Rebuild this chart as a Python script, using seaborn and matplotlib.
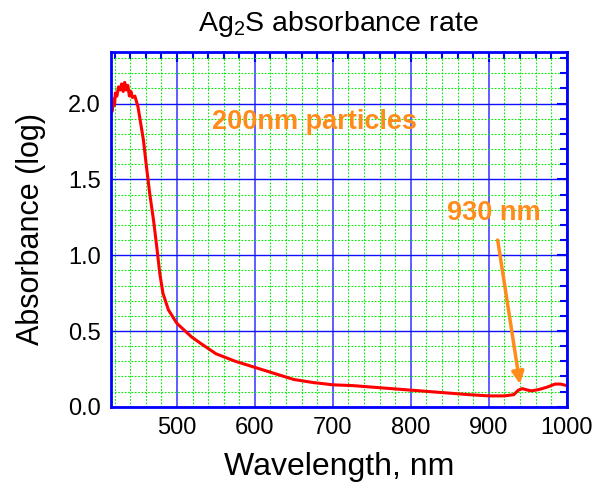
import matplotlib
matplotlib.use('Agg')
import matplotlib.pyplot as plt
import seaborn as sns
import pandas as pd
from matplotlib.ticker import MultipleLocator, FormatStrFormatter

# 吸收光谱数据
wavelength = [417, 419, 420, 421, 423, 425, 427, 429, 431, 433, 435, 437, 439, 441, 443,
              446, 450, 457, 461, 465, 470, 474, 478, 482, 489, 500, 519, 530,
              550, 575, 600, 625, 650, 675, 700, 725, 750, 775, 800, 825, 850, 875,
              900, 920, 932, 938, 943, 950, 955, 965, 975, 985, 992, 1000]
absorbance = [1.95, 2.03, 1.99, 2.07, 2.05, 2.11, 2.09, 2.13, 2.08, 2.14, 2.09, 2.12, 2.05, 2.08, 2.04,
              2.05, 1.98, 1.76, 1.58, 1.41, 1.23, 1.06, 0.88, 0.75, 0.64, 0.55, 0.46, 0.42,
              0.35, 0.30, 0.26, 0.22, 0.18, 0.16, 0.145, 0.14, 0.13, 0.12, 0.11, 0.10, 0.09, 0.08,
              0.072, 0.072, 0.08, 0.11, 0.12, 0.11, 0.105, 0.115, 0.13, 0.15, 0.15, 0.14]

df = pd.DataFrame({'wavelength': wavelength, 'absorbance': absorbance})

sns.set_style('white')
plt.rcParams['font.family'] = ['Liberation Sans', 'DejaVu Sans']
plt.rcParams['text.color'] = 'black'
plt.rcParams['axes.labelcolor'] = 'black'
plt.rcParams['mathtext.fontset'] = 'custom'
plt.rcParams['mathtext.rm'] = 'Liberation Sans'
plt.rcParams['mathtext.default'] = 'rm'

fig = plt.figure(figsize=(5.95, 4.82), dpi=100)
ax = fig.add_axes([0.186, 0.156, 0.7665, 0.736])

# 网格
ax.xaxis.set_major_locator(MultipleLocator(100))
ax.xaxis.set_minor_locator(MultipleLocator(20))
ax.yaxis.set_major_locator(MultipleLocator(0.5))
ax.yaxis.set_minor_locator(MultipleLocator(0.1))
ax.grid(which='minor', color='#00ee00', linestyle=(0, (1.5, 1.5)), linewidth=0.8)
ax.grid(which='major', axis='y', color='#1010ff', linestyle='-', linewidth=1.0)
ax.grid(which='major', axis='x', color='#5050ff', linestyle='-', linewidth=1.3)
ax.set_axisbelow(True)

sns.lineplot(data=df, x='wavelength', y='absorbance', ax=ax, color='#ff0000', linewidth=2.2)

ax.set_xlim(415, 1000)
ax.set_ylim(0, 2.34)
ax.yaxis.set_major_formatter(FormatStrFormatter('%.1f'))

for s in ax.spines.values():
    s.set_color('#0000ff')
    s.set_linewidth(2)
ax.tick_params(which='both', direction='in', color='#0000ff', labelcolor='black',
               top=True, right=True, labelsize=17, pad=7)
ax.tick_params(which='major', length=7, width=1.5)
ax.tick_params(which='minor', length=5, width=1.5)

ax.set_xlabel('Wavelength, nm', fontsize=23, labelpad=10)
ax.set_ylabel('Absorbance (log)', fontsize=22, labelpad=16)
ax.set_title('Ag$_2$S absorbance rate', fontsize=20.5, pad=15)

orange = '#ff8c1a'
ax.text(545, 1.88, '200nm particles', color=orange, fontsize=19.5, fontweight='bold',
        va='center', ha='left')
ax.annotate('930 nm', xy=(940, 0.15), xytext=(906, 1.28), color=orange, fontsize=19.5,
            fontweight='bold', ha='center', va='center',
            arrowprops=dict(arrowstyle='-|>', color=orange, lw=2.5, mutation_scale=18,
                            shrinkA=8, shrinkB=0))

fig.savefig('out.png', dpi=100)
